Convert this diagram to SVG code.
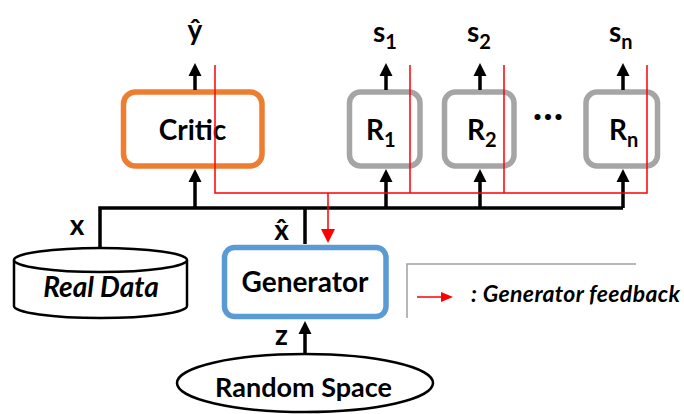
<svg xmlns="http://www.w3.org/2000/svg" width="684" height="414" viewBox="0 0 684 414">
<style>
text{font-family:Lato,"Open Sans","Liberation Sans",sans-serif;font-weight:bold;fill:#000}
.lbl{font-size:28px}
.sub{font-size:20px}
.it{font-style:italic}
.blk{stroke:#000;stroke-width:3.5;fill:none}
.red{stroke:#FF0000;stroke-width:1.5;fill:none}
.box{fill:#fff;stroke-width:5.5}
</style>
<defs>
<marker id="ah" markerUnits="userSpaceOnUse" markerWidth="14" markerHeight="14" viewBox="0 0 14 14" refX="0" refY="7" orient="auto">
<path d="M0,0.5 L13,7 L0,13.5 z" fill="#000"/>
</marker>
<marker id="rh" markerUnits="userSpaceOnUse" markerWidth="14" markerHeight="14" viewBox="0 0 14 14" refX="0" refY="7" orient="auto">
<path d="M0,0 L14,7 L0,14 z" fill="#FF0000"/>
</marker>
<marker id="rh2" markerUnits="userSpaceOnUse" markerWidth="12" markerHeight="12" viewBox="0 0 12 12" refX="0" refY="6" orient="auto">
<path d="M0,1 L12,6 L0,11 z" fill="#FF0000"/>
</marker>
</defs>

<g id="critic">
<rect class="box" x="123.5" y="92" width="138.5" height="74" rx="12" stroke="#ED7D31"/>
<text class="lbl" x="192.5" y="140" text-anchor="middle">Critic</text>
</g>
<g id="r1">
<rect class="box" x="349.5" y="92" width="70.5" height="74" rx="11" stroke="#A5A5A5"/>
<text class="lbl" x="366" y="140">R<tspan class="sub" dy="7">1</tspan></text>
</g>
<g id="r2">
<rect class="box" x="444.5" y="92" width="69.5" height="74" rx="11" stroke="#A5A5A5"/>
<text class="lbl" x="467" y="140">R<tspan class="sub" dy="7">2</tspan></text>
</g>
<g id="rn">
<rect class="box" x="586" y="92" width="71.5" height="74" rx="11" stroke="#A5A5A5"/>
<text class="lbl" x="609" y="140">R<tspan class="sub" dy="7">n</tspan></text>
</g>
<g id="dots">
<text x="548.5" y="120" text-anchor="middle" font-size="40" letter-spacing="1">...</text>
</g>
<g id="generator">
<rect class="box" x="224.5" y="247.5" width="161.5" height="69" rx="10" stroke="#5B9BD5"/>
<text class="lbl" x="305" y="292" text-anchor="middle">Generator</text>
</g>
<g id="real-data">
<path d="M14,260 L14,306 A86.5,12 0 0 0 187,306 L187,260" fill="#fff" stroke="#000" stroke-width="2.5"/>
<ellipse cx="100.5" cy="260" rx="86.5" ry="12" fill="#fff" stroke="#000" stroke-width="2.5"/>
<text class="lbl it" x="101" y="297" text-anchor="middle">Real Data</text>
</g>
<g id="random-space">
<ellipse cx="305" cy="383" rx="128" ry="29" fill="#fff" stroke="#000" stroke-width="2.5"/>
<text x="303.5" y="397" text-anchor="middle" font-size="27">Random Space</text>
</g>

<g id="outputs">
<text class="lbl" x="195" y="40" text-anchor="middle">ŷ</text>
<text class="lbl" x="373" y="42">s<tspan class="sub" dy="7">1</tspan></text>
<text class="lbl" x="467" y="42">s<tspan class="sub" dy="7">2</tspan></text>
<text class="lbl" x="609" y="42">s<tspan class="sub" dy="7">n</tspan></text>
<text class="lbl" x="77" y="235" text-anchor="middle">x</text>
<text class="lbl" x="281.5" y="240" text-anchor="middle">x̂</text>
<text class="lbl" x="281.5" y="345" text-anchor="middle">z</text>
</g>

<g id="connectors">
<polyline class="blk" points="100,247 100,208 623,208"/>
<line class="blk" x1="305" y1="208" x2="305" y2="244"/>
<line class="blk" x1="195" y1="208" x2="195" y2="182" marker-end="url(#ah)"/>
<line class="blk" x1="386" y1="208" x2="386" y2="182" marker-end="url(#ah)"/>
<line class="blk" x1="480" y1="208" x2="480" y2="182" marker-end="url(#ah)"/>
<line class="blk" x1="623" y1="208" x2="623" y2="182" marker-end="url(#ah)"/>
<line class="blk" x1="195" y1="90" x2="195" y2="76" marker-end="url(#ah)"/>
<line class="blk" x1="386" y1="90" x2="386" y2="76" marker-end="url(#ah)"/>
<line class="blk" x1="480" y1="90" x2="480" y2="76" marker-end="url(#ah)"/>
<line class="blk" x1="623" y1="90" x2="623" y2="76" marker-end="url(#ah)"/>
<line class="blk" x1="305" y1="353" x2="305" y2="334" marker-end="url(#ah)"/>
<path class="red" d="M215,65 V193 H647 V65 M410,65 V193 M504,65 V193"/>
<line class="red" x1="328" y1="193" x2="328" y2="229" marker-end="url(#rh)"/>
</g>

<g id="legend">
<path d="M636,264 H407 V318" fill="none" stroke="#A0A0A0" stroke-width="1.5"/>
<line class="red" x1="417" y1="297" x2="441" y2="297" marker-end="url(#rh2)"/>
<text class="it" x="471" y="302" font-size="23" textLength="209" lengthAdjust="spacing">: Generator feedback</text>
</g>
</svg>
